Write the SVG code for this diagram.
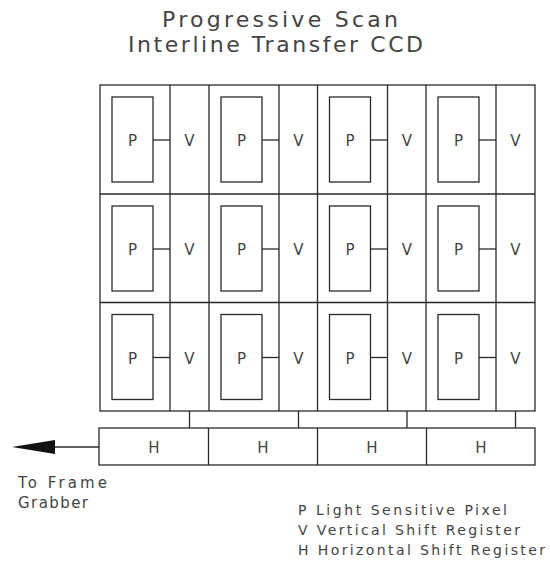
<svg xmlns="http://www.w3.org/2000/svg" width="550" height="565" viewBox="0 0 550 565">
<style>
.ln{fill:none;stroke:#2a2a2a;stroke-width:1.3}
.t{font-family:"DejaVu Sans","Liberation Sans",sans-serif;fill:#444}
.lbl{font-size:15px;text-anchor:middle}
.leg{font-size:14px}
</style>
<rect width="550" height="565" fill="#fff"/>
<g id="title">
<text class="t" x="162" y="27" font-size="22" textLength="236" lengthAdjust="spacing">Progressive Scan</text>
<text class="t" x="128" y="52" font-size="22" textLength="295" lengthAdjust="spacing">Interline Transfer CCD</text>
</g>
<g id="grid">
<rect class="ln" x="100" y="85" width="435" height="326"/>
<path class="ln" d="M100 194H535M100 302.5H535M209 85V411M317.5 85V411M426 85V411M170 85V411M279 85V411M387.5 85V411M496 85V411"/>
</g>
<defs>
<g id="cell">
<rect class="ln" x="12" y="12" width="41" height="85"/>
<path class="ln" d="M53 55H70"/>
<text class="t lbl" x="32.5" y="61">P</text>
<text class="t lbl" x="89.5" y="61">V</text>
</g>
</defs>
<g id="pixels">
<use href="#cell" x="100" y="85"/><use href="#cell" x="209" y="85"/><use href="#cell" x="317.5" y="85"/><use href="#cell" x="426" y="85"/>
<use href="#cell" x="100" y="194"/><use href="#cell" x="209" y="194"/><use href="#cell" x="317.5" y="194"/><use href="#cell" x="426" y="194"/>
<use href="#cell" x="100" y="302.5"/><use href="#cell" x="209" y="302.5"/><use href="#cell" x="317.5" y="302.5"/><use href="#cell" x="426" y="302.5"/>
</g>
<g id="connectors">
<path class="ln" d="M189.5 411V428M298.5 411V428M407 411V428M515.5 411V428"/>
<path class="ln" d="M99 447H52"/>
<polygon points="12,447 55,440 55,454" fill="#111"/>
</g>
<g id="hreg">
<rect class="ln" x="99" y="428" width="436" height="37"/>
<path class="ln" d="M208.5 428V465M317.5 428V465M426.5 428V465"/>
<text class="t lbl" x="154" y="453">H</text>
<text class="t lbl" x="263" y="453">H</text>
<text class="t lbl" x="372" y="453">H</text>
<text class="t lbl" x="481" y="453">H</text>
</g>
<g id="output">
<text class="t" x="18" y="488" font-size="15" textLength="89" lengthAdjust="spacing">To Frame</text>
<text class="t" x="18" y="508" font-size="15" textLength="70" lengthAdjust="spacing">Grabber</text>
</g>
<g id="legend">
<text class="t leg" x="298" y="515" textLength="209" lengthAdjust="spacing">P Light Sensitive Pixel</text>
<text class="t leg" x="298" y="535" textLength="222" lengthAdjust="spacing">V Vertical Shift Register</text>
<text class="t leg" x="298" y="555" textLength="247" lengthAdjust="spacing">H Horizontal Shift Register</text>
</g>
</svg>
